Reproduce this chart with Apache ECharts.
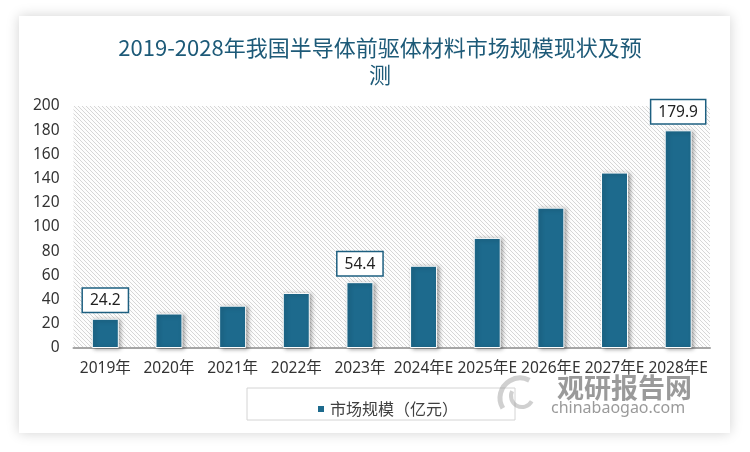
<!DOCTYPE html>
<html>
<head>
<meta charset="utf-8">
<script src="https://cdn.jsdelivr.net/npm/echarts@6/dist/echarts.min.js"></script>
<style>html,body{margin:0;padding:0;background:#fff;}#main{width:750px;height:452px;}</style>
</head>
<body>
<div id="main"></div>
<script>
const categories = ['2019年','2020年','2021年','2022年','2023年','2024年E','2025年E','2026年E','2027年E','2028年E'];
const values = [24.2, 28.5, 35, 45.5, 54.4, 68, 91, 116, 145, 179.9];
const labelled = [0, 4, 9];
const seriesName = '市场规模（亿元）';
const titleText = '2019-2028年我国半导体前驱体材料市场规模现状及预\n测';

function hatch() {
  const c = document.createElement('canvas');
  c.width = 4; c.height = 4;
  const g = c.getContext('2d');
  g.fillStyle = '#fdfdfd'; g.fillRect(0, 0, 4, 4);
  g.strokeStyle = '#d6d6d6'; g.lineWidth = 1;
  g.beginPath();
  g.moveTo(-1, -1); g.lineTo(5, 5);
  g.moveTo(-1, 3); g.lineTo(1, 5);
  g.moveTo(3, -1); g.lineTo(5, 1);
  g.stroke();
  return c;
}

const teal = '#1d6a8d';
const chart = echarts.init(document.getElementById('main'));
chart.setOption({
  backgroundColor: '#ffffff',
  animation: false,
  graphic: [
    { type: 'rect', z: -10, shape: { x: 19, y: 16, width: 711, height: 417 },
      style: { fill: '#fff', shadowBlur: 12, shadowColor: 'rgba(0,0,0,0.18)' } },
    { type: 'rect', shape: { x: 247, y: 388, width: 268, height: 32 },
      style: { fill: 'none', stroke: '#d4d4d4', lineWidth: 1 } },
    { type: 'arc', shape: { cx: 520, cy: 398, r: 20, startAngle: 2.6, endAngle: 5.2 },
      style: { stroke: 'rgba(150,150,150,0.45)', lineWidth: 5, fill: 'none' } },
    { type: 'arc', shape: { cx: 522, cy: 396, r: 11, startAngle: 0.5, endAngle: 3.6 },
      style: { stroke: 'rgba(150,150,150,0.45)', lineWidth: 4, fill: 'none' } },
    { type: 'text', left: 557, top: 374, z: 100,
      style: { text: '观研报告网', font: 'bold 27px "Noto Sans CJK SC"', fill: 'rgba(120,120,120,0.75)' } },
    { type: 'text', left: 551, top: 400, z: 100,
      style: { text: 'chinabaogao.com', font: '16px "Noto Sans"', fill: 'rgba(120,120,120,0.75)' } }
  ],
  title: {
    text: titleText,
    left: 375, top: 29, textAlign: 'center',
    textStyle: { fontFamily: '"Noto Sans CJK SC"', fontSize: 22, fontWeight: 'normal', color: '#1d5a78', lineHeight: 27 }
  },
  legend: {
    data: [seriesName], left: 311, top: 396,
    icon: 'rect', itemWidth: 8, itemHeight: 8,
    textStyle: { fontFamily: '"Noto Sans CJK SC"', fontSize: 16, color: '#404040' }
  },
  grid: { left: 73.5, right: 40, top: 106, bottom: 104, show: true, borderWidth: 0,
    backgroundColor: { image: hatch(), repeat: 'repeat' } },
  xAxis: {
    type: 'category', data: categories,
    axisLine: { lineStyle: { color: '#a6a6a6', width: 2 } },
    axisTick: { show: false },
    axisLabel: { interval: 0, margin: 13, fontFamily: '"Noto Sans", "Noto Sans CJK SC"', fontSize: 15.5, color: '#333' }
  },
  yAxis: {
    type: 'value', min: 0, max: 200, interval: 20,
    axisLine: { show: false }, axisTick: { show: false }, splitLine: { show: false },
    axisLabel: { margin: 14, fontFamily: '"Noto Sans"', fontSize: 15.5, color: '#333' }
  },
  series: [{
    type: 'bar', name: seriesName, barWidth: 27,
    data: values.map((v, i) => ({
      value: v,
      label: { show: labelled.includes(i) }
    })),
    itemStyle: { color: teal, borderColor: '#fff', borderWidth: 1,
      shadowColor: 'rgba(0,0,0,0.35)', shadowBlur: 4, shadowOffsetX: 2, shadowOffsetY: 1 },
    label: {
      position: 'top', distance: 7, color: '#222', fontFamily: '"Noto Sans"', fontSize: 15.5,
      backgroundColor: '#fff', borderColor: '#1d5f80', borderWidth: 1.5, padding: [4, 7, 3, 7]
    }
  }]
});
</script>
</body>
</html>
